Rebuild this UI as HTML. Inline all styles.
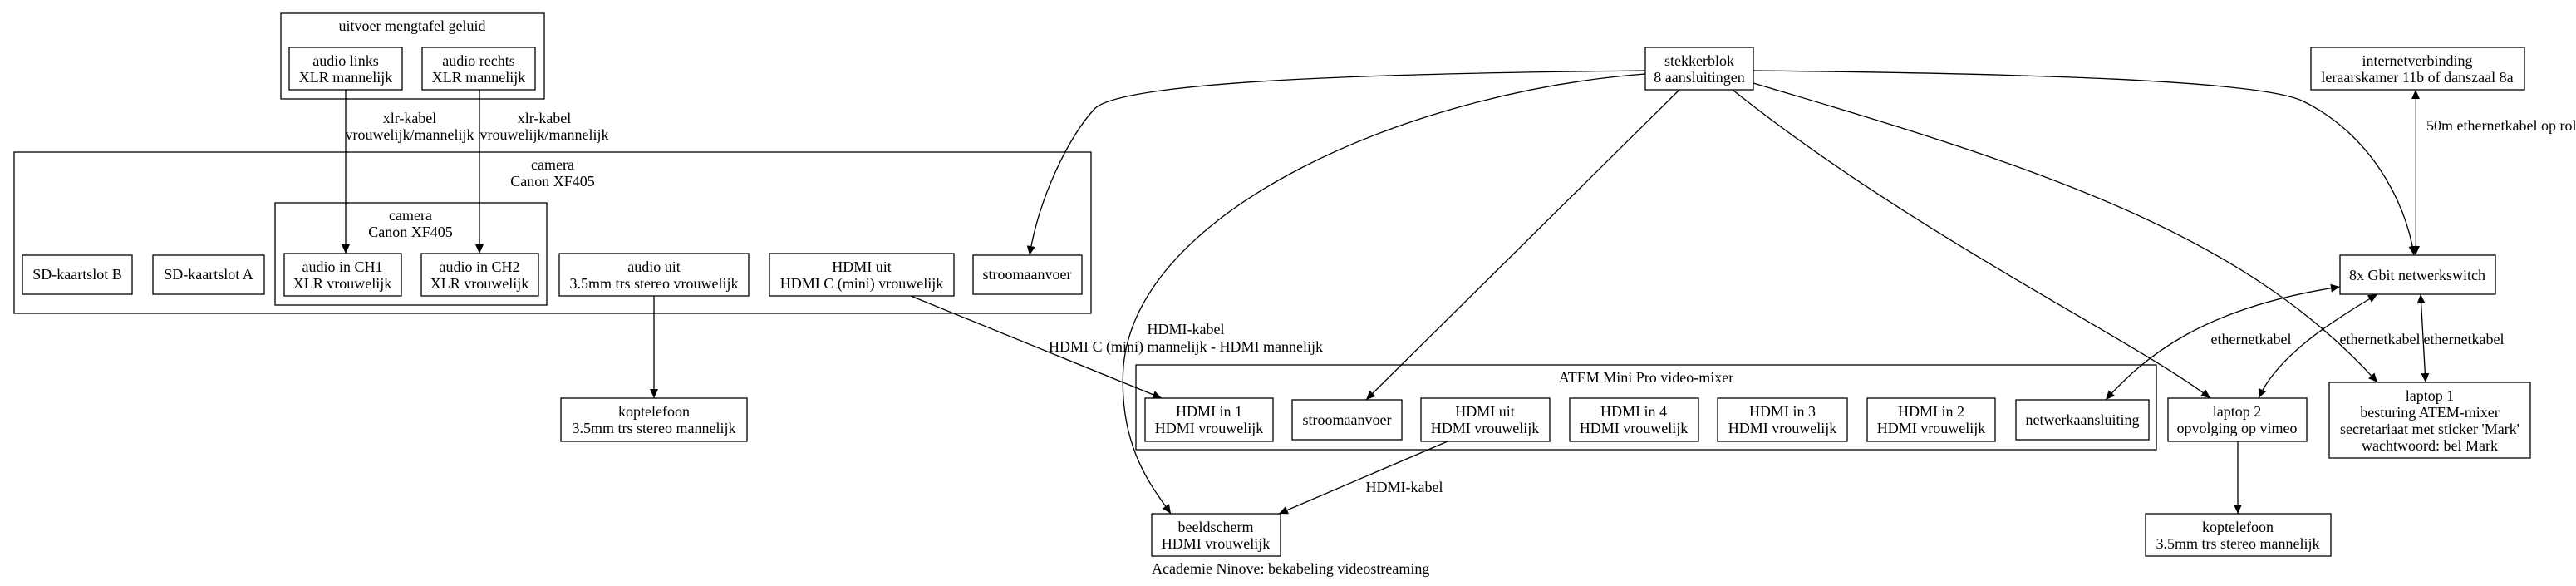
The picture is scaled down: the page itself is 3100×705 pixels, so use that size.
<!DOCTYPE html>
<html><head><meta charset="utf-8"><style>
html,body{margin:0;padding:0;background:#fff;}
svg{display:block;}
text{font-family:"Liberation Serif",serif;font-size:18px;fill:#000;}
</style></head><body>
<svg width="3100" height="705" viewBox="0 0 3100 705" xmlns="http://www.w3.org/2000/svg">
<defs>
<marker id="a" markerUnits="userSpaceOnUse" markerWidth="12" markerHeight="10" refX="11" refY="5" orient="auto"><path d="M0,0 L11,5 L0,10 Z" fill="#000"/></marker>
<marker id="s" markerUnits="userSpaceOnUse" markerWidth="12" markerHeight="10" refX="0" refY="5" orient="auto"><path d="M11,0 L0,5 L11,10 Z" fill="#000"/></marker>
</defs>
<g fill="none" stroke="#000" stroke-width="1.3">
<rect x="338" y="16" width="317" height="103"/>
<rect x="17" y="183" width="1296" height="194"/>
<rect x="331" y="244" width="327" height="123"/>
<rect x="1367" y="439" width="1228" height="102"/>
<rect x="348" y="57" width="136" height="51"/>
<rect x="508" y="57" width="136" height="51"/>
<rect x="27" y="307" width="132" height="47"/>
<rect x="184" y="307" width="134" height="47"/>
<rect x="342" y="305" width="141" height="51"/>
<rect x="507" y="305" width="141" height="51"/>
<rect x="673" y="305" width="228" height="51"/>
<rect x="926" y="305" width="222" height="51"/>
<rect x="1171" y="307" width="131" height="47"/>
<rect x="675" y="479" width="224" height="52"/>
<rect x="1378" y="479" width="154" height="52"/>
<rect x="1555" y="481" width="132" height="48"/>
<rect x="1710" y="479" width="155" height="52"/>
<rect x="1889" y="479" width="155" height="52"/>
<rect x="2067" y="479" width="156" height="52"/>
<rect x="2247" y="479" width="154" height="52"/>
<rect x="2426" y="481" width="160" height="48"/>
<rect x="2609" y="479" width="167" height="52"/>
<rect x="2803" y="460" width="242" height="91"/>
<rect x="2582" y="618" width="223" height="51"/>
<rect x="1386" y="618" width="155" height="51"/>
<rect x="1980" y="57" width="130" height="51"/>
<rect x="2781" y="57" width="257" height="51"/>
<rect x="2816" y="307" width="187" height="47"/>
<path d="M416,108 L416,305" marker-end="url(#a)"/>
<path d="M577,108 L577,305" marker-end="url(#a)"/>
<path d="M787,356 L787,479" marker-end="url(#a)"/>
<path d="M1096,356 L1398,479" marker-end="url(#a)"/>
<path d="M1742,531 L1539,618" marker-end="url(#a)"/>
<path d="M2693,531 L2693,618" marker-end="url(#a)"/>
<path d="M1980,85 C1700,88 1360,95 1318,130 C1285,165 1250,240 1239,307" marker-end="url(#a)"/>
<path d="M1980,89 C1700,110 1370,250 1352,440 C1345,540 1390,590 1409,618" marker-end="url(#a)"/>
<path d="M2021,108 L1644,481" marker-end="url(#a)"/>
<path d="M2085,108 C2300,280 2570,410 2660,479" marker-end="url(#a)"/>
<path d="M2110,100 C2450,200 2700,280 2861,460" marker-end="url(#a)"/>
<path d="M2110,85 C2400,88 2720,95 2772,122 C2850,160 2895,240 2905,307" marker-end="url(#a)"/>
<path d="M2907,108 L2907,307" stroke="#666" stroke-width="1" marker-start="url(#s)" marker-end="url(#a)"/>
<path d="M2913,354 L2919,460" marker-start="url(#s)" marker-end="url(#a)"/>
<path d="M2816,345 C2650,370 2580,430 2534,481" marker-start="url(#s)" marker-end="url(#a)"/>
<path d="M2861,354 C2800,390 2740,430 2718,479" marker-start="url(#s)" marker-end="url(#a)"/>
</g>
<g text-anchor="middle">
<text x="496" y="37">uitvoer mengtafel geluid</text>
<text x="416" y="79">audio links</text><text x="416" y="99">XLR mannelijk</text>
<text x="576" y="79">audio rechts</text><text x="576" y="99">XLR mannelijk</text>
<text x="493" y="148">xlr-kabel</text><text x="493" y="168">vrouwelijk/mannelijk</text>
<text x="655" y="148">xlr-kabel</text><text x="655" y="168">vrouwelijk/mannelijk</text>
<text x="665" y="204">camera</text><text x="665" y="224">Canon XF405</text>
<text x="494" y="265">camera</text><text x="494" y="285">Canon XF405</text>
<text x="93" y="336">SD-kaartslot B</text>
<text x="251" y="336">SD-kaartslot A</text>
<text x="412" y="327">audio in CH1</text><text x="412" y="347">XLR vrouwelijk</text>
<text x="577" y="327">audio in CH2</text><text x="577" y="347">XLR vrouwelijk</text>
<text x="787" y="327">audio uit</text><text x="787" y="347">3.5mm trs stereo vrouwelijk</text>
<text x="1037" y="327">HDMI uit</text><text x="1037" y="347">HDMI C (mini) vrouwelijk</text>
<text x="1236" y="336">stroomaanvoer</text>
<text x="787" y="501">koptelefoon</text><text x="787" y="521">3.5mm trs stereo mannelijk</text>
<text x="1427" y="402">HDMI-kabel</text><text x="1427" y="423">HDMI C (mini) mannelijk - HDMI mannelijk</text>
<text x="1981" y="460">ATEM Mini Pro video-mixer</text>
<text x="1455" y="501">HDMI in 1</text><text x="1455" y="521">HDMI vrouwelijk</text>
<text x="1621" y="511">stroomaanvoer</text>
<text x="1787" y="501">HDMI uit</text><text x="1787" y="521">HDMI vrouwelijk</text>
<text x="1966" y="501">HDMI in 4</text><text x="1966" y="521">HDMI vrouwelijk</text>
<text x="2145" y="501">HDMI in 3</text><text x="2145" y="521">HDMI vrouwelijk</text>
<text x="2324" y="501">HDMI in 2</text><text x="2324" y="521">HDMI vrouwelijk</text>
<text x="2506" y="511">netwerkaansluiting</text>
<text x="2692" y="501">laptop 2</text><text x="2692" y="521">opvolging op vimeo</text>
<text x="2924" y="482">laptop 1</text><text x="2924" y="502">besturing ATEM-mixer</text><text x="2924" y="522">secretariaat met sticker 'Mark'</text><text x="2924" y="542">wachtwoord: bel Mark</text>
<text x="2693" y="640">koptelefoon</text><text x="2693" y="660">3.5mm trs stereo mannelijk</text>
<text x="1463" y="640">beeldscherm</text><text x="1463" y="660">HDMI vrouwelijk</text>
<text x="1690" y="592">HDMI-kabel</text>
<text x="2045" y="79">stekkerblok</text><text x="2045" y="99">8 aansluitingen</text>
<text x="2909" y="79">internetverbinding</text><text x="2909" y="99">leraarskamer 11b of danszaal 8a</text>
<text x="2909" y="337">8x Gbit netwerkswitch</text>
<text x="2709" y="414">ethernetkabel</text>
<text x="2864" y="414">ethernetkabel</text>
<text x="2965" y="414">ethernetkabel</text>
</g>
<text x="2920" y="157">50m ethernetkabel op rol</text>
<text x="1386" y="690">Academie Ninove: bekabeling videostreaming</text>
</svg>
</body></html>
